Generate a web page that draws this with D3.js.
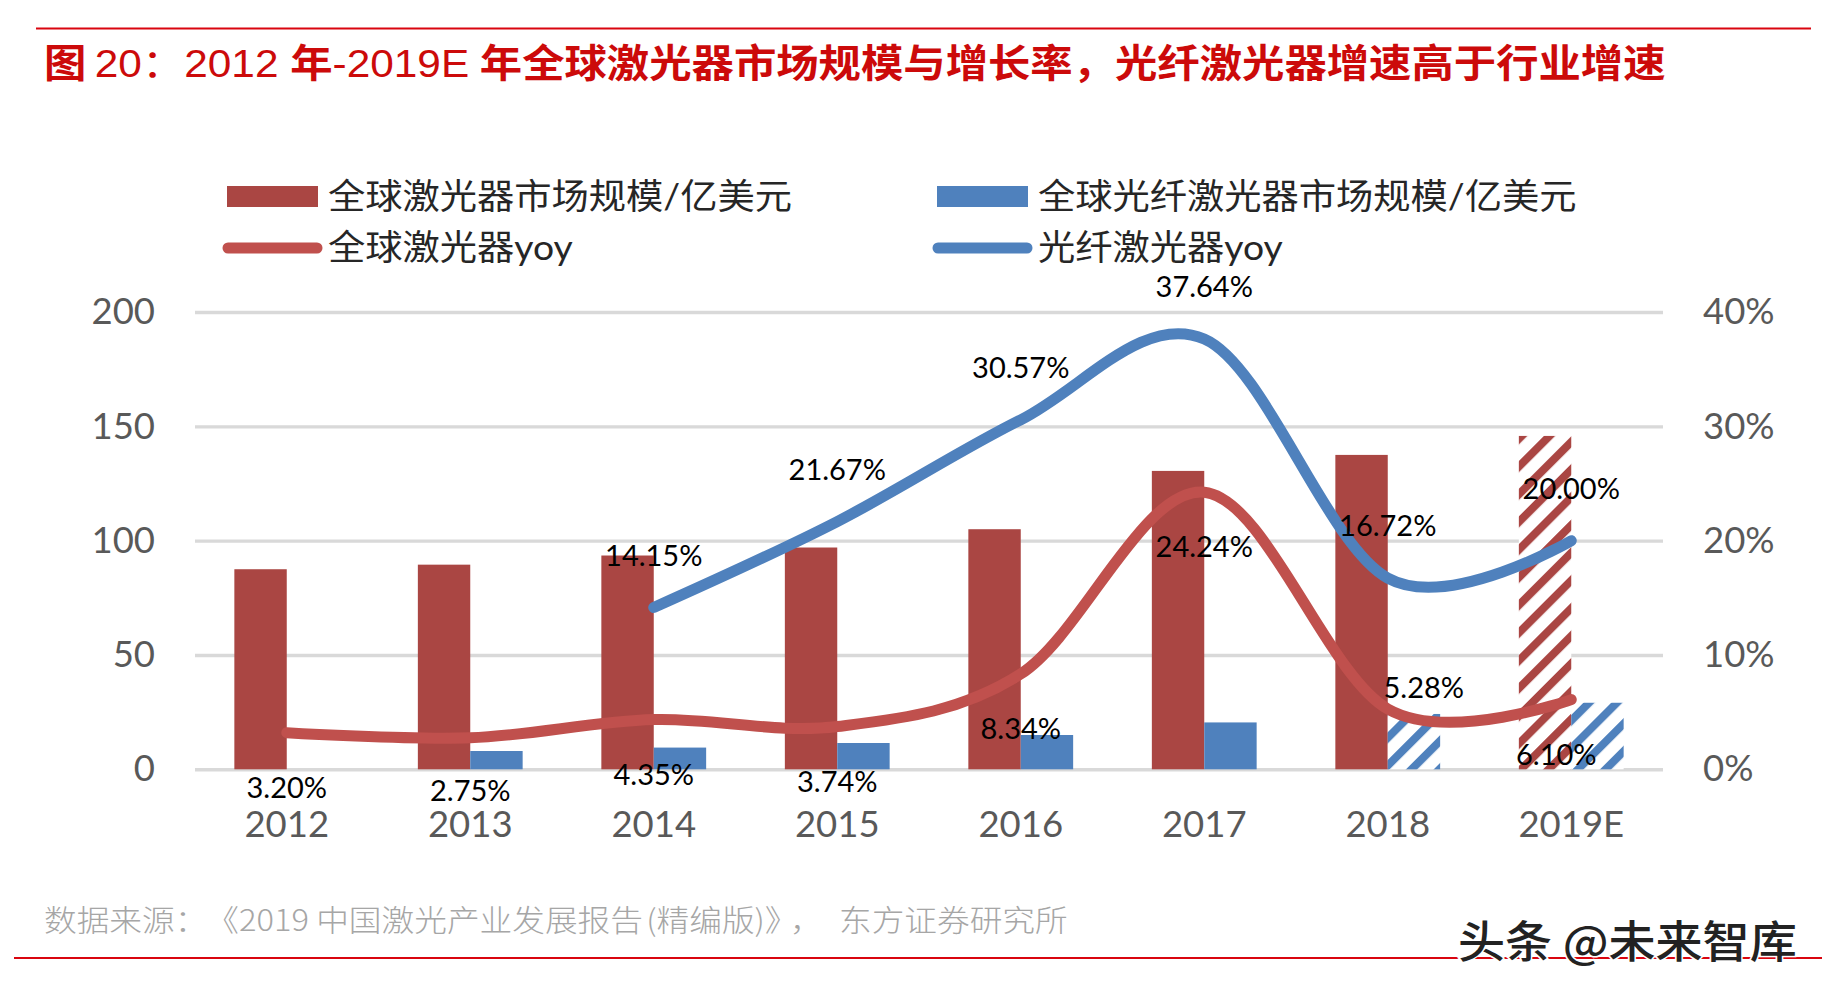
<!DOCTYPE html>
<html><head><meta charset="utf-8">
<script src="https://cdn.jsdelivr.net/npm/d3@7"></script>
<style>html,body{margin:0;background:#fff}svg{display:block}</style></head>
<body><svg id="c" width="1822" height="994"></svg>
<script>
const categories=["2012","2013","2014","2015","2016","2017","2018","2019E"];
const marketSize=[87.5,89.5,93.5,97,105,130.5,137.5,145.8];
const fiberSize=[null,8,9.5,11.5,15,20.5,24.2,29.1];
const marketYoy=[3.20,2.75,4.35,3.74,8.34,24.24,5.28,6.10];
const fiberYoy=[null,null,14.15,21.67,30.57,37.64,16.72,20.00];
const leftTicks=[0,50,100,150,200];
const rightTicks=[0,10,20,30,40];
const titleParts=["图"," 20：2012 ","年","-2019E ","年全球激光器市场规模与增长率，光纤激光器增速高于行业增速"];
const legendLabels=["全球激光器市场规模/亿美元","全球光纤激光器市场规模/亿美元","全球激光器yoy","光纤激光器yoy"];
const sourceParts=["数据来源：","《2019 中国激光产业发展报告","(精编版)》","，","东方证券研究所"];
const watermark="头条 @未来智库";

const C={bar:"#aa4643",blue:"#4f81bd",line:"#c0504d",grid:"#d9d9d9",axis:"#595959",rule:"#d9050f"};
const CJK='"Noto Sans CJK SC"', LAT='Lato,"Noto Sans CJK SC"';
const svg=d3.select("#c");
const plotL=195,plotR=1663,plotT=312,plotB=769.3;
const x=d3.scaleBand().domain(categories).range([plotL,plotR]);
const barW=52.4;
const y=d3.scaleLinear().domain([0,200]).range([plotB,plotT]);
const y2=d3.scaleLinear().domain([0,40]).range([plotB,plotT]);

const defs=svg.append("defs");
function hatch(id,color,dx){
  const p=defs.append("pattern").attr("id",id).attr("patternUnits","userSpaceOnUse")
    .attr("width",19.6).attr("height",19.6)
    .attr("patternTransform",`translate(${dx},0) rotate(45)`);
  p.append("rect").attr("width",19.6).attr("height",19.6).attr("fill","#fff");
  p.append("rect").attr("width",8).attr("height",19.6).attr("fill",color);
}
hatch("hatchRed",C.bar,11.8);
hatch("hatchBlue",C.blue,13.3);

svg.append("line").attr("x1",36).attr("x2",1811).attr("y1",28.5).attr("y2",28.5).attr("stroke",C.rule).attr("stroke-width",2);
svg.append("line").attr("x1",14).attr("x2",1822).attr("y1",958).attr("y2",958).attr("stroke",C.rule).attr("stroke-width",2);

const titleWeights=[700,400,700,400,700];
const titleDx=[0,-3,0,0,-1];
const title=svg.append("text").attr("transform","translate(44,77) scale(1.1,1)")
  .attr("font-family",'"Liberation Sans","Noto Sans CJK SC"').attr("font-size",38.5).attr("fill","#cc0a0a");
title.selectAll("tspan").data(titleParts).join("tspan").attr("font-weight",(d,i)=>titleWeights[i]).attr("dx",(d,i)=>titleDx[i]).style("white-space","pre").text(d=>d);

// gridlines + axes
const gL=svg.append("g").attr("transform",`translate(${plotL},0)`)
  .call(d3.axisLeft(y).tickValues(leftTicks).tickSize(-(plotR-plotL)).tickPadding(40));
const gR=svg.append("g").attr("transform",`translate(${plotR},0)`)
  .call(d3.axisRight(y2).tickValues(rightTicks).tickSize(0).tickPadding(40).tickFormat(d=>d+"%"));
const gB=svg.append("g").attr("transform",`translate(0,${plotB})`)
  .call(d3.axisBottom(x).tickSize(0).tickPadding(41.5));
[gL,gR,gB].forEach(g=>{
  g.select(".domain").remove();
  g.selectAll("text").attr("font-family",LAT).attr("font-size",36.5).attr("fill",C.axis);
});
gL.selectAll("line").attr("stroke",C.grid).attr("stroke-width",3.4);

const cx=d=>x(d)+x.bandwidth()/2;
const isEst=c=>c==="2019E";
const isBlueEst=c=>c==="2018"||c==="2019E";
svg.append("g").selectAll("rect").data(categories).join("rect")
  .attr("x",d=>cx(d)-barW).attr("width",barW)
  .attr("y",(d,i)=>y(marketSize[i])).attr("height",(d,i)=>plotB-y(marketSize[i]))
  .attr("fill",d=>isEst(d)?"url(#hatchRed)":C.bar);
svg.append("g").selectAll("rect").data(categories.filter((d,i)=>fiberSize[i]!=null)).join("rect")
  .attr("x",d=>cx(d)).attr("width",barW)
  .attr("y",d=>y(fiberSize[categories.indexOf(d)])).attr("height",d=>plotB-y(fiberSize[categories.indexOf(d)]))
  .attr("fill",d=>isBlueEst(d)?"url(#hatchBlue)":C.blue);

const line=d3.line().x(d=>cx(d.c)).y(d=>y2(d.v)).curve(d3.curveCardinal.tension(0));
function drawLine(vals,color){
  svg.append("path").datum(categories.map((c,i)=>({c,v:vals[i]})).filter(d=>d.v!=null)).attr("d",line)
    .attr("fill","none").attr("stroke",color).attr("stroke-width",11).attr("stroke-linecap","round");
}
drawLine(marketYoy,C.line);
drawLine(fiberYoy,C.blue);

// data labels
const redOffsets={"2013":[0,52.5],"2018":[36,-21],"2019E":[-15,55]};
function labels(vals,dy,off){
  svg.append("g").selectAll("text").data(categories.map((c,i)=>({c,v:vals[i]})).filter(d=>d.v!=null)).join("text")
    .attr("x",d=>cx(d.c)+((off[d.c]||[0])[0]))
    .attr("y",d=>y2(d.v)+((off[d.c]||[0,dy])[1]))
    .attr("dy","0.35em").attr("text-anchor","middle").attr("font-family",LAT).attr("font-size",29).attr("fill","#000")
    .text(d=>d.v.toFixed(2)+"%");
}
labels(marketYoy,55,redOffsets);
labels(fiberYoy,-52,{});

// legend
const lg=svg.append("g");
[[227,C.bar],[937,C.blue]].forEach(([px,col])=>lg.append("rect").attr("x",px).attr("y",186).attr("width",91).attr("height",21).attr("fill",col));
[[228,C.line],[938,C.blue]].forEach(([px,col])=>lg.append("line").attr("x1",px).attr("x2",px+89).attr("y1",248).attr("y2",248).attr("stroke",col).attr("stroke-width",11).attr("stroke-linecap","round"));
[[328,209],[1038,209],[328,260],[1038,260]].forEach(([px,py],i)=>{
  lg.append("text").attr("transform",`translate(${px},${py}) scale(1.065,1)`)
   .attr("font-family",LAT).attr("font-weight",400).attr("font-size",35).attr("fill","#262626").text(legendLabels[i]);
});

const sourceDx=[0,14,3,8,15];
const src=svg.append("text").attr("transform","translate(44,931) scale(1.09,1)")
 .attr("font-family",CJK).attr("font-weight",300).attr("font-size",30).attr("fill","#a6a6a6");
src.selectAll("tspan").data(sourceParts).join("tspan").attr("dx",(d,i)=>sourceDx[i]).style("white-space","pre").text(d=>d);
svg.append("text").attr("transform","translate(1458,958) scale(1.07,1)")
 .attr("font-family",CJK).attr("font-weight",500).attr("font-size",44).attr("fill","#222").attr("stroke","#fff").attr("stroke-width",3).attr("paint-order","stroke").text(watermark);
</script></body></html>
